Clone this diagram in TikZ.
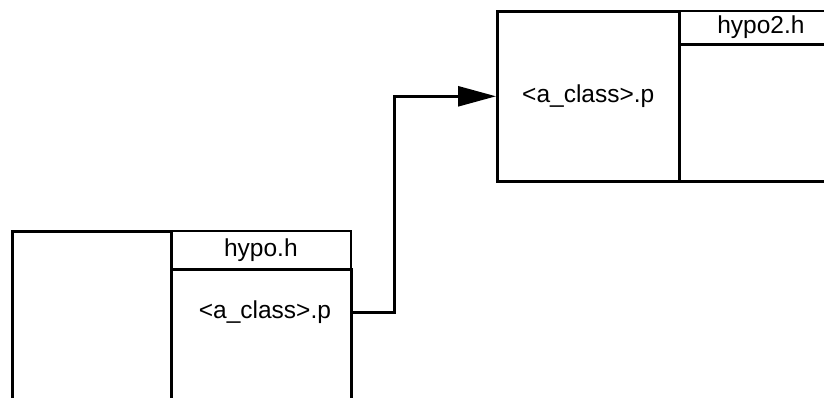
\documentclass[tikz,border=0pt]{standalone}
\usepackage{fontspec}
\setmainfont{Liberation Sans}
\usetikzlibrary{positioning,arrows.meta}

\begin{document}
\begin{tikzpicture}[x=1pt,y=-1pt,line width=2.6pt,
        cell/.style={draw,rectangle,inner sep=0pt,anchor=north west,font=\fontsize{24.5}{28}\selectfont},
        hdr/.style={cell,line width=1.8pt}]
        \useasboundingbox (0,0) rectangle (824,398);
        \clip (0,0) rectangle (824,398);
        % upper file
        \node[cell,minimum width=182pt,minimum height=170pt] (cls2) at (496,10) {<a\_class>.p};
        \node[hdr,minimum width=164pt,minimum height=33pt] (hdr2) at (678,10) {hypo2.h};
        \node[cell,minimum width=164pt,minimum height=137pt] (body2) at (678,43) {};
        % lower file
        \node[cell,minimum width=159pt,minimum height=200pt] (left1) at (11,230) {};
        \node[hdr,minimum width=180pt,minimum height=38pt] (hdr1) at (170,230) {hypo.h};
        \node[cell,minimum width=180pt,minimum height=162pt] (body1) at (170,268) {};
        \node[font=\fontsize{24.5}{28}\selectfont,inner sep=0pt,below=30pt of hdr1,xshift=4pt] (cls1) {<a\_class>.p};
        \draw[-{Triangle[length=38pt,width=20pt]}] (cls1 -| body1.east) -- ++(42,0) |- (cls2.west);
    \end{tikzpicture}
\end{document}
